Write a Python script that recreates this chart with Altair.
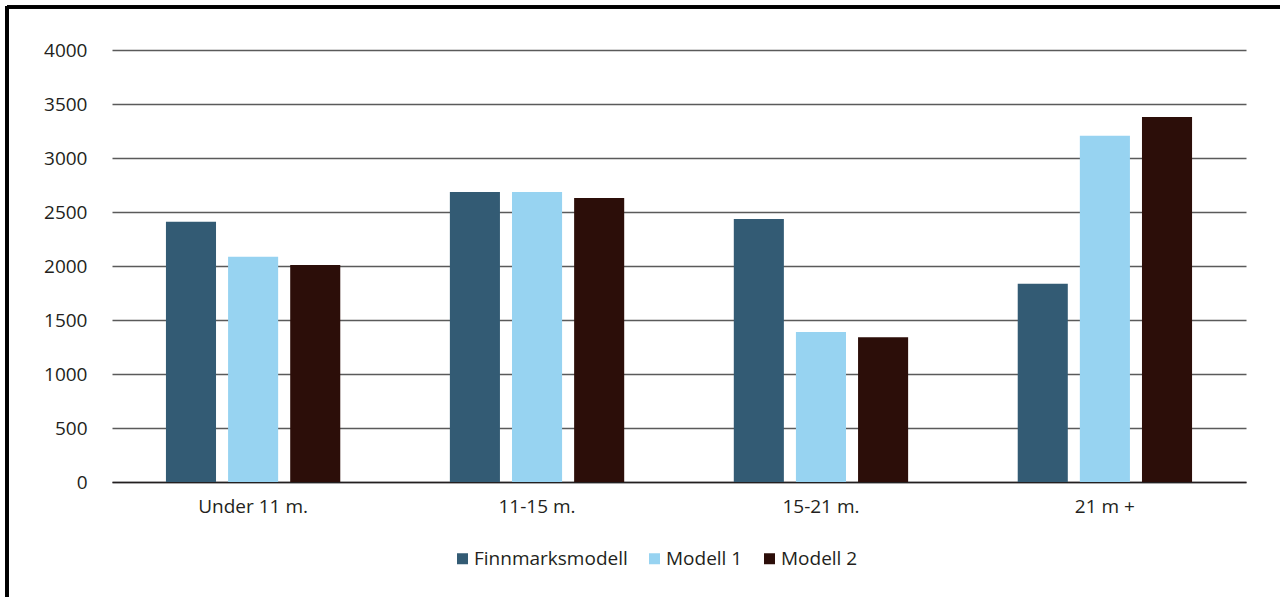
import altair as alt
import pandas as pd

# Vessel length groups and the three model estimates per group
categories = ["Under 11 m.", "11-15 m.", "15-21 m.", "21 m +"]
series = ["Finnmarksmodell", "Modell 1", "Modell 2"]
finnmark = [2410, 2685, 2435, 1835]
modell_1 = [2085, 2685, 1390, 3205]
modell_2 = [2010, 2630, 1340, 3380]
colors = ["#335b74", "#97d3f1", "#2c0e09"]

rows = []
for name, vals in zip(series, [finnmark, modell_1, modell_2]):
    for cat, v in zip(categories, vals):
        rows.append({"Lengde": cat, "Modell": name, "Verdi": v})
df = pd.DataFrame(rows)

FONT = "Open Sans"
W, H = 1134, 432
PAD_L, PAD_T = 112, 50

bars = alt.Chart(df).mark_bar().encode(
    x=alt.X("Lengde:N", sort=categories, title=None,
            scale=alt.Scale(paddingInner=0.386, paddingOuter=0.19),
            axis=alt.Axis(labelAngle=0, labelFontSize=19, labelFont=FONT,
                          labelColor="#231f20", labelPadding=15, ticks=False,
                          grid=False, domainColor="#231f20", domainWidth=1.3)),
    xOffset=alt.XOffset("Modell:N", sort=series,
                        scale=alt.Scale(paddingInner=0.194, paddingOuter=0)),
    y=alt.Y("Verdi:Q", title=None,
            scale=alt.Scale(domain=[0, 4000]),
            axis=alt.Axis(values=list(range(0, 4001, 500)), format="d",
                          labelFontSize=19, labelFont=FONT, labelColor="#231f20",
                          labelPadding=25, ticks=False, domain=False,
                          gridColor="#5a5a5a", gridWidth=1.3)),
    color=alt.Color("Modell:N", sort=series,
                    scale=alt.Scale(domain=series, range=colors),
                    legend=alt.Legend(title=None, orient="none", direction="horizontal",
                                      legendX=341, legendY=499, symbolType="square",
                                      symbolSize=121, symbolStrokeWidth=0,
                                      labelFont=FONT, labelFontSize=19,
                                      labelColor="#231f20", labelOffset=2,
                                      columnPadding=17, padding=0)),
)

# Frame lines along the top and left edge of the figure
frame_top = alt.Chart(df).mark_rule(color="#000000", strokeWidth=2.6).encode(
    x=alt.value(7 - PAD_L), x2=alt.value(1280 - PAD_L), y=alt.value(7 - PAD_T)
)
frame_left = alt.Chart(df).mark_rule(color="#000000", strokeWidth=2.6).encode(
    x=alt.value(7 - PAD_L), y=alt.value(6 - PAD_T), y2=alt.value(597 - PAD_T)
)

chart = alt.layer(bars, frame_top, frame_left).properties(
    width=W, height=H,
    autosize=alt.AutoSizeParams(type="none"),
    padding={"left": PAD_L, "top": PAD_T, "right": 1280 - PAD_L - W,
             "bottom": 597 - PAD_T - H},
).configure(background="white", view=alt.ViewConfig(stroke=None))

chart.save("out.html", embed_options={"renderer": "svg", "actions": False})
